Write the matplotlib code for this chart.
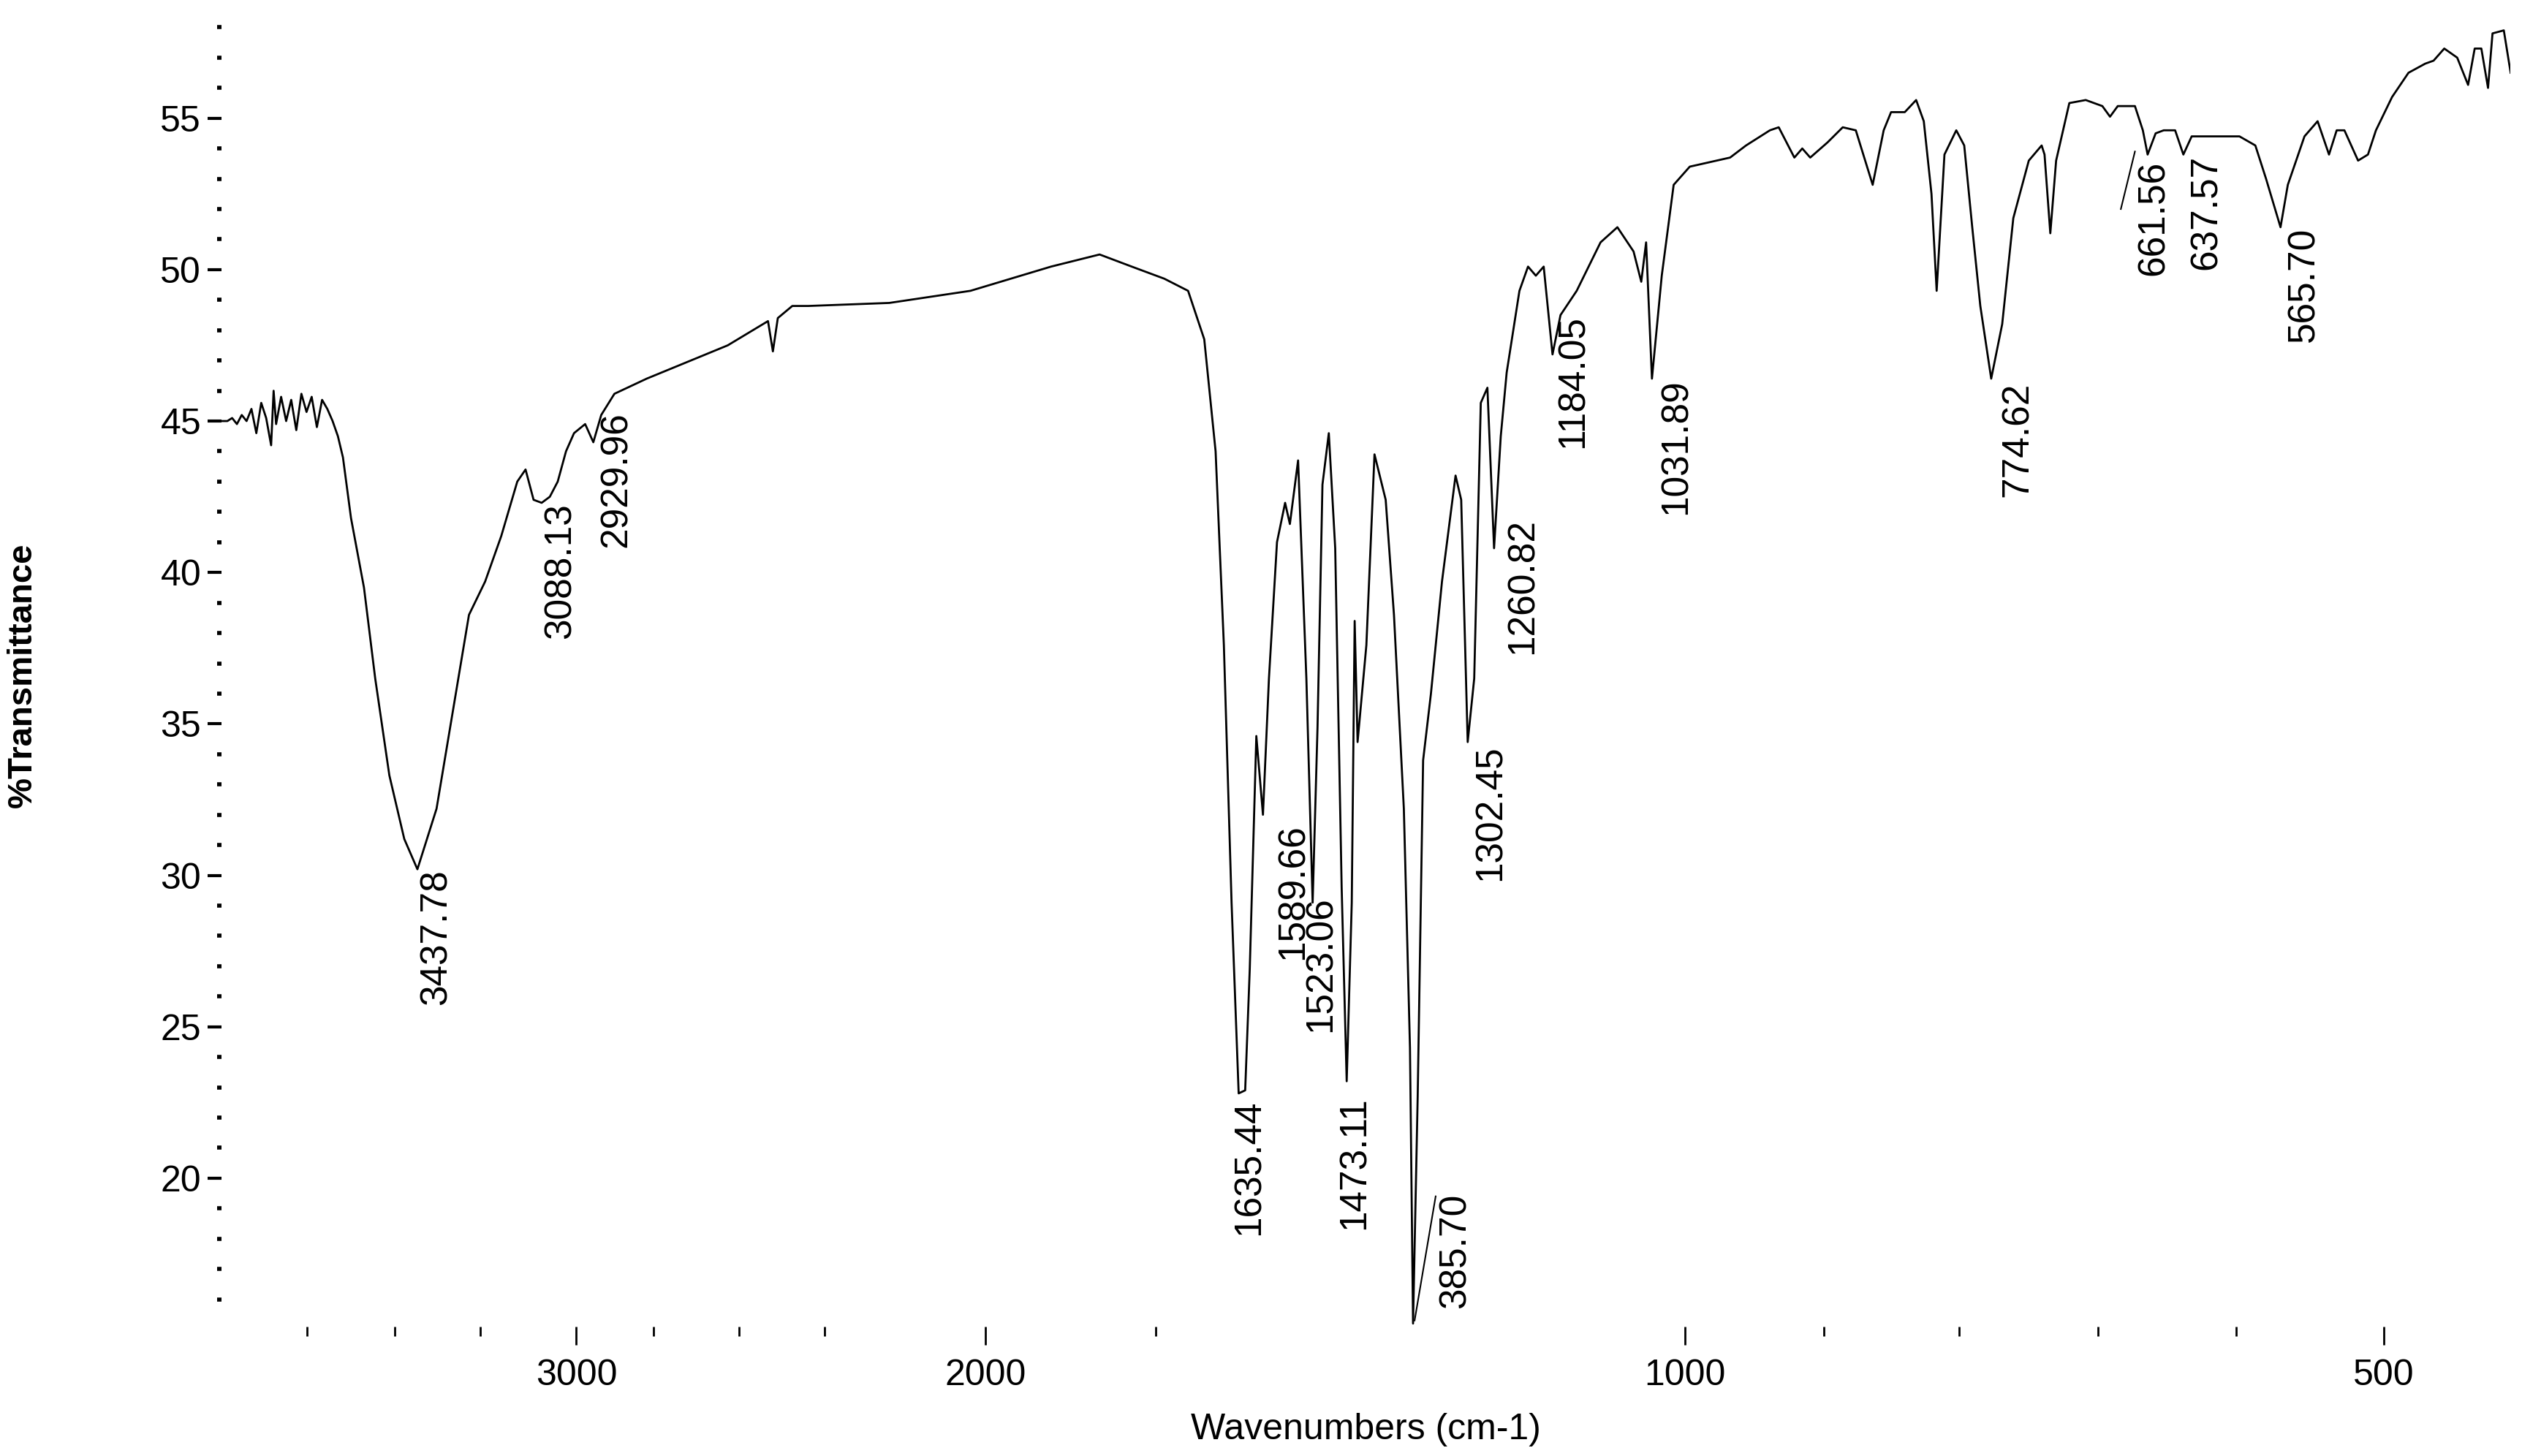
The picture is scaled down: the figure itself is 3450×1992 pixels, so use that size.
import matplotlib
matplotlib.use("Agg")
import matplotlib.pyplot as plt
from matplotlib.ticker import FixedLocator, NullFormatter, FixedFormatter

wavenumber = [4265, 4240, 4220, 4200, 4180, 4160, 4140, 4120, 4100, 4080, 4060, 4050, 4040, 4020, 4000,
              3980, 3960, 3940, 3920, 3900, 3880, 3860, 3840, 3820, 3800, 3781,
              3751, 3703, 3662, 3611, 3558, 3512, 3446, 3391, 3337, 3284, 3232, 3181, 3155, 3130, 3105,
              3080, 3056, 3031, 3007, 2974, 2950, 2927, 2889, 2798, 2582, 2481, 2469, 2457, 2422, 2384,
              2200, 2030, 1874, 1786, 1730, 1675, 1636, 1610, 1592, 1579, 1567, 1556, 1546, 1539, 1529,
              1519, 1510, 1498, 1486, 1479, 1467, 1455, 1446, 1439, 1432, 1423, 1414, 1405, 1398, 1391,
              1387, 1383, 1371, 1360, 1345, 1334, 1321, 1313, 1309, 1303, 1296, 1286, 1272, 1255, 1248,
              1240, 1232, 1224, 1216, 1208, 1200, 1193, 1178, 1168, 1159, 1150, 1140, 1131, 1113, 1087,
              1069, 1052, 1044, 1039, 1033, 1023, 1011, 995, 956, 941, 919, 911, 904, 897, 890, 883, 868,
              855, 844, 830, 821, 815, 804, 795, 789, 783, 779, 773, 764, 758, 752, 746, 738, 730, 722,
              711, 702, 700, 696, 692, 683, 672, 661, 656, 651, 640, 635, 632, 627, 622, 615, 610, 605,
              577, 568, 562, 554, 550, 541, 534, 528, 524, 520, 513, 508, 504, 496, 488, 480, 476, 471,
              465, 460, 457, 454, 451, 449, 444, 441]
transmittance = [45.0, 45.0, 45.1, 44.9, 45.2, 45.0, 45.4, 44.6, 45.6, 45.1, 44.2, 46.0, 44.9, 45.8, 45.0,
                 45.7, 44.7, 45.9, 45.3, 45.8, 44.8, 45.7, 45.4, 45.0, 44.5, 43.8,
                 41.8, 39.5, 36.5, 33.3, 31.2, 30.2, 32.2, 35.4, 38.6, 39.7, 41.2, 43.0, 43.4, 42.4, 42.3,
                 42.5, 43.0, 44.0, 44.6, 44.9, 44.3, 45.2, 45.9, 46.4, 47.5, 48.3, 47.3, 48.4, 48.8, 48.8,
                 48.9, 49.3, 50.1, 50.5, 50.1, 49.7, 49.3, 47.7, 44.0, 37.6, 29.1, 22.8, 22.9, 26.9, 34.6,
                 32.0, 36.5, 41.0, 42.3, 41.6, 43.7, 36.5, 29.1, 34.9, 42.9, 44.6, 40.8, 29.6, 23.2, 29.1,
                 38.4, 34.4, 37.6, 43.9, 42.4, 38.6, 32.2, 24.3, 15.2, 22.7, 33.8, 36.0, 39.7, 43.2, 42.4,
                 34.4, 36.5, 45.6, 46.1, 40.8, 44.5, 46.6, 49.3, 50.1, 49.8, 50.1, 47.2, 48.5, 49.3, 50.9,
                 51.4, 50.6, 49.6, 50.9, 46.4, 49.8, 52.8, 53.4, 53.7, 54.1, 54.6, 54.7, 54.2, 53.7, 54.0, 53.7, 54.2,
                 54.7, 54.6, 52.8, 54.6, 55.2, 55.2, 55.6, 54.9, 52.5, 49.3, 53.8, 54.6, 54.1, 51.4, 48.8, 46.4, 48.2, 51.7,
                 53.6, 54.1, 53.8, 51.2, 53.6, 55.5, 55.6, 55.4, 55.05, 55.4, 55.4, 54.6, 53.8, 54.5, 54.6, 54.6, 53.8, 54.4,
                 54.4, 54.1, 53.0, 51.4, 52.8, 54.4, 54.9, 53.8, 54.6, 54.6, 53.6, 53.8, 54.6, 55.7, 56.5, 56.8, 56.9, 57.3,
                 57.0, 56.1, 57.3, 57.3, 56.0, 57.8, 57.9, 56.5]

peak_labels = ["3437.78", "3088.13", "2929.96", "1635.44", "1589.66", "1523.06", "1473.11", "385.70",
               "1302.45", "1260.82", "1184.05", "1031.89", "774.62", "661.56", "637.57", "565.70"]
label_x = [3446, 3046, 2884, 1539, 1474, 1434, 1387, 1255, 1212, 1174, 1117, 1008, 719, 628, 596, 541]
label_top = [30.2, 42.3, 45.3, 22.6, 31.7, 29.3, 22.7, 19.5, 34.3, 41.8, 48.5, 46.4, 46.3, 53.6, 53.8, 51.4]

x_major = [3000, 2000, 1000, 500]
x_minor = [3917, 3592, 3300, 2780, 2554, 2346, 1689, 871, 762, 664, 579]
y_major = [20, 25, 30, 35, 40, 45, 50, 55]

fig = plt.figure(figsize=(34.5, 19.92), dpi=100)
ax = fig.add_axes([0.0878, 0.0889, 0.9077, 0.8944])
ax.plot(wavenumber, transmittance, color="black", lw=2.0)
ax.set_xscale("log")
ax.set_xlim(4265, 441)
ax.set_ylim(15.1, 58.1)
for s in ax.spines.values():
    s.set_visible(False)

tickfont = ["Liberation Sans Narrow", "Liberation Sans"]
ax.xaxis.set_major_locator(FixedLocator(x_major))
ax.xaxis.set_major_formatter(FixedFormatter([str(v) for v in x_major]))
ax.xaxis.set_minor_locator(FixedLocator(x_minor))
ax.xaxis.set_minor_formatter(NullFormatter())
ax.yaxis.set_major_locator(FixedLocator(y_major))
ax.yaxis.set_minor_locator(FixedLocator([v for v in range(16, 59) if v % 5]))
ax.tick_params(axis="x", which="major", direction="out", length=18, width=2, labelsize=36, pad=14)
ax.tick_params(axis="x", which="minor", direction="out", length=9, width=2)
ax.tick_params(axis="y", which="major", direction="out", length=14, width=3, labelsize=36, pad=6)
ax.tick_params(axis="y", which="minor", direction="out", length=4, width=4)
for lab in ax.get_xticklabels() + ax.get_yticklabels():
    lab.set_family(tickfont)

ax.set_xlabel("Wavenumbers (cm-1)", fontsize=36, family=tickfont, labelpad=20)
ax.set_ylabel("%Transmittance", fontsize=34, fontweight="bold", family="Liberation Sans", labelpad=120)

for t, x, y in zip(peak_labels, label_x, label_top):
    ax.text(x, y, t, rotation=90, ha="center", va="top", fontsize=37,
            family="Liberation Sans", color="black")

ax.plot([1307, 1280], [15.3, 19.4], color="black", lw=1.5)
ax.plot([649, 640], [52.0, 53.9], color="black", lw=1.5)

fig.savefig("out.png", dpi=100, facecolor="white")
